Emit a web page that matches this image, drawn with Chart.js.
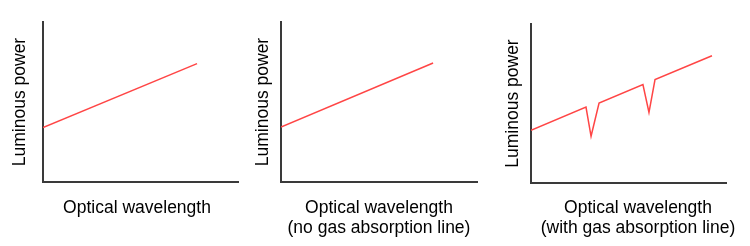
<!DOCTYPE html>
<html>
<head>
<meta charset="utf-8">
<script src="https://cdn.jsdelivr.net/npm/chart.js@4/dist/chart.umd.min.js"></script>
<style>
  body { margin: 0; background: #fff; }
  #wrap { position: relative; width: 750px; height: 246px; font-family: "Liberation Sans", Arial, sans-serif; }
  canvas { position: absolute; top: 0; }
  .xlab { position: absolute; top: 197px; width: 240px; margin-left: -120px; text-align: center;
          font-size: 17.5px; line-height: 20px; color: #000; }
</style>
</head>
<body>
<div id="wrap">
  <canvas id="c1" width="250" height="246" style="left:0px"></canvas>
  <canvas id="c2" width="250" height="246" style="left:250px"></canvas>
  <canvas id="c3" width="250" height="246" style="left:500px"></canvas>
  <div class="xlab" style="left:137px">Optical wavelength</div>
  <div class="xlab" style="left:379px">Optical wavelength<br>(no gas absorption line)</div>
  <div class="xlab" style="left:638px">Optical wavelength<br>(with gas absorption line)</div>
</div>
<script>
// x and y are on a 0-100 scale (no units shown on the original)
var yTitle = 'Luminous power';

var plainX = [0, 79];
var plainY = [34, 74];

var noGasX = [0, 77.6];
var noGasY = [34.4, 74.4];

var withGasX = [0, 28.2, 30.8, 34.9, 57.4, 60.5, 63.6, 92.8];
var withGasY = [33.1, 47.8, 29.4, 50.3, 61.9, 44.4, 65, 80];

function toPoints(xs, ys) {
    return xs.map(function (x, i) { return { x: x, y: ys[i] }; });
}

function makePanel(id, xs, ys, box) {
    var ctx = document.getElementById(id).getContext('2d');
    new Chart(ctx, {
        type: 'line',
        data: {
            datasets: [{
                data: toPoints(xs, ys),
                borderColor: '#ff4545',
                borderWidth: 1.5,
                pointRadius: 0,
                tension: 0
            }]
        },
        options: {
            responsive: false,
            animation: false,
            devicePixelRatio: 1,
            layout: { padding: { top: box.top, right: box.right, left: 0, bottom: 0 } },
            plugins: { legend: { display: false }, tooltip: { enabled: false } },
            scales: {
                x: {
                    type: 'linear', min: 0, max: 100,
                    ticks: { display: false },
                    grid: { display: false, drawTicks: false },
                    border: { display: true, color: '#3a3a3a', width: 2 },
                    afterFit: function (s) { s.height = box.bottom; }
                },
                y: {
                    type: 'linear', min: 0, max: 100,
                    ticks: { display: false },
                    grid: { display: false, drawTicks: false },
                    border: { display: true, color: '#3a3a3a', width: 2 },
                    title: {
                        display: true,
                        text: yTitle,
                        color: '#000',
                        font: { family: '"Liberation Sans", Arial, sans-serif', size: 17.5 },
                        padding: { top: box.titlePad, bottom: 0 }
                    },
                    afterFit: function (s) { s.width = box.left; }
                }
            }
        }
    });
}

makePanel('c1', plainX, plainY, { left: 43, top: 22, right: 12, bottom: 64, titlePad: 9.5 });
makePanel('c2', noGasX, noGasY, { left: 31, top: 22, right: 23, bottom: 64, titlePad: 3 });
makePanel('c3', withGasX, withGasY, { left: 31, top: 24, right: 24, bottom: 63, titlePad: 3 });
</script>
</body>
</html>
